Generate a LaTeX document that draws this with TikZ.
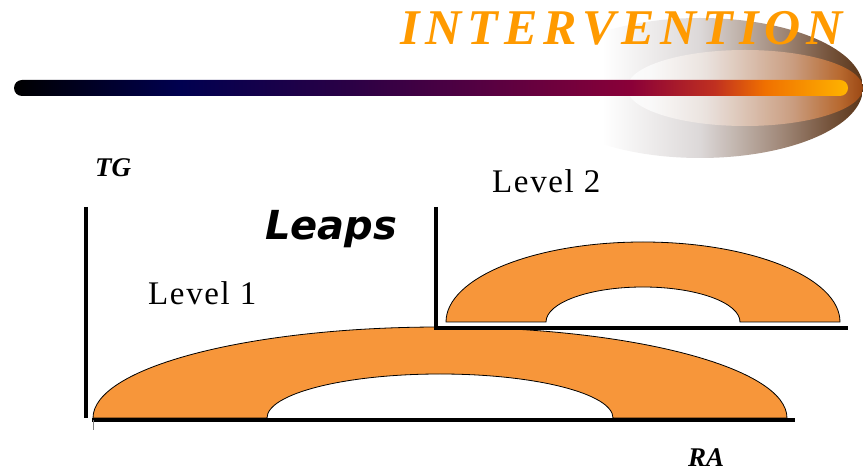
\documentclass[tikz,border=0pt]{standalone}
\usepackage{fontspec}
\setmainfont{Liberation Serif}
\newfontfamily\leapsfont{DejaVu Sans}
\usepackage{xcolor}
\usetikzlibrary{positioning}
\definecolor{archorange}{HTML}{F7963A}
\definecolor{titleorange}{HTML}{FF9A00}
\definecolor{barnavy}{HTML}{000050}
\definecolor{barpurple}{HTML}{2A0045}
\definecolor{barplum}{HTML}{520042}
\definecolor{barcrimson}{HTML}{8A0038}
\definecolor{barred}{HTML}{C03020}
\definecolor{barorange}{HTML}{F07000}
\definecolor{baryellow}{HTML}{FFB400}
\definecolor{glowgray}{HTML}{DCD8D8}
\definecolor{glowtaupe}{HTML}{A08878}
\definecolor{glowbrown}{HTML}{74523A}
\definecolor{glowdark}{HTML}{5A3518}
\definecolor{glowpale}{HTML}{F2E8E2}
\definecolor{glowpeach}{HTML}{E0AC8A}
\definecolor{glowamber}{HTML}{D87830}
\definecolor{glowrust}{HTML}{B85012}
% shading positions: path spans 25bp..75bp
\pgfdeclarehorizontalshading{barshade}{100bp}{color(0bp)=(black); color(25bp)=(black); color(35bp)=(barnavy); color(45bp)=(barpurple); color(52.5bp)=(barplum); color(62bp)=(barcrimson); color(67bp)=(barred); color(70bp)=(barorange); color(75bp)=(baryellow); color(100bp)=(baryellow)}
\pgfdeclarehorizontalshading{glowouter}{100bp}{color(0bp)=(white); color(35bp)=(white); color(50bp)=(glowgray); color(62.5bp)=(glowtaupe); color(70bp)=(glowbrown); color(75bp)=(glowdark); color(100bp)=(glowdark)}
\pgfdeclarehorizontalshading{glowinner}{100bp}{color(0bp)=(white); color(30bp)=(white); color(42bp)=(glowpale); color(60bp)=(glowpeach); color(70bp)=(glowamber); color(75bp)=(glowrust); color(100bp)=(glowrust)}

\begin{document}
\begin{tikzpicture}[x=1pt, y=1pt,
  axisline/.style={line width=4pt},
  archband/.style={fill=archorange, draw=black, line width=0.8pt},
  levellabel/.style={font=\fontsize{33}{33}\selectfont\addfontfeature{LetterSpace=5}, inner sep=0pt},
  axislabel/.style={font=\fontsize{27}{27}\selectfont\bfseries\itshape, inner sep=0pt}]
  \useasboundingbox (0,0) rectangle (863,474);
  % comet glow and bar
  \shade[shading=glowouter] (700,386) ellipse [x radius=163pt, y radius=70pt];
  \shade[shading=glowinner, opacity=0.7] (745,386) ellipse [x radius=118pt, y radius=38pt];
  \shade[shading=barshade, rounded corners=8pt] (14,378) rectangle (848,394);
  \node[anchor=base west, inner sep=0pt, text=titleorange,
    font=\fontsize{50}{50}\selectfont\bfseries\itshape\addfontfeature{LetterSpace=12}] (title) at (400,429) {INTERVENTION};
  % level 1 axes
  \coordinate (tg-top) at (86,267);
  \coordinate (tg-foot) at (86,56);
  \coordinate (ra-start) at (92,54);
  \coordinate (ra-end) at (795,54);
  \draw[axisline] (tg-top) -- (tg-foot);
  \draw[axisline] (ra-start) -- (ra-end);
  \draw[gray, line width=0.6pt] (93,54) -- (93,44);
  % level 1 arch
  \filldraw[archband] (93,56) arc[start angle=180, end angle=0, x radius=347pt, y radius=91pt]
    -- (613,56) arc[start angle=0, end angle=180, x radius=173pt, y radius=44pt] -- cycle;
  % level 2 axes
  \coordinate (l2-top) at (436,267);
  \coordinate (l2-corner) at (436,146);
  \coordinate (l2-end) at (848,146);
  \draw[axisline] (l2-top) -- (l2-corner) -- (l2-end);
  % level 2 arch
  \filldraw[archband] (446,152) arc[start angle=180, end angle=0, x radius=197pt, y radius=80pt]
    -- (740,152) arc[start angle=0, end angle=180, x radius=97pt, y radius=35pt] -- cycle;
  % labels
  \node[axislabel, anchor=base west] (tg) at (95,297) {TG};
  \node[axislabel, anchor=base west] (ra) at (688,7) {RA};
  \node[levellabel, anchor=base west] (lvl1) at (148,169) {Level 1};
  \node[levellabel, anchor=base west] (lvl2) at (492,281) {Level 2};
  \node[anchor=base west, inner sep=0pt, font=\leapsfont\fontsize{40}{40}\selectfont\bfseries\itshape] (leaps) at (265,234) {Leaps};
\end{tikzpicture}
\end{document}
